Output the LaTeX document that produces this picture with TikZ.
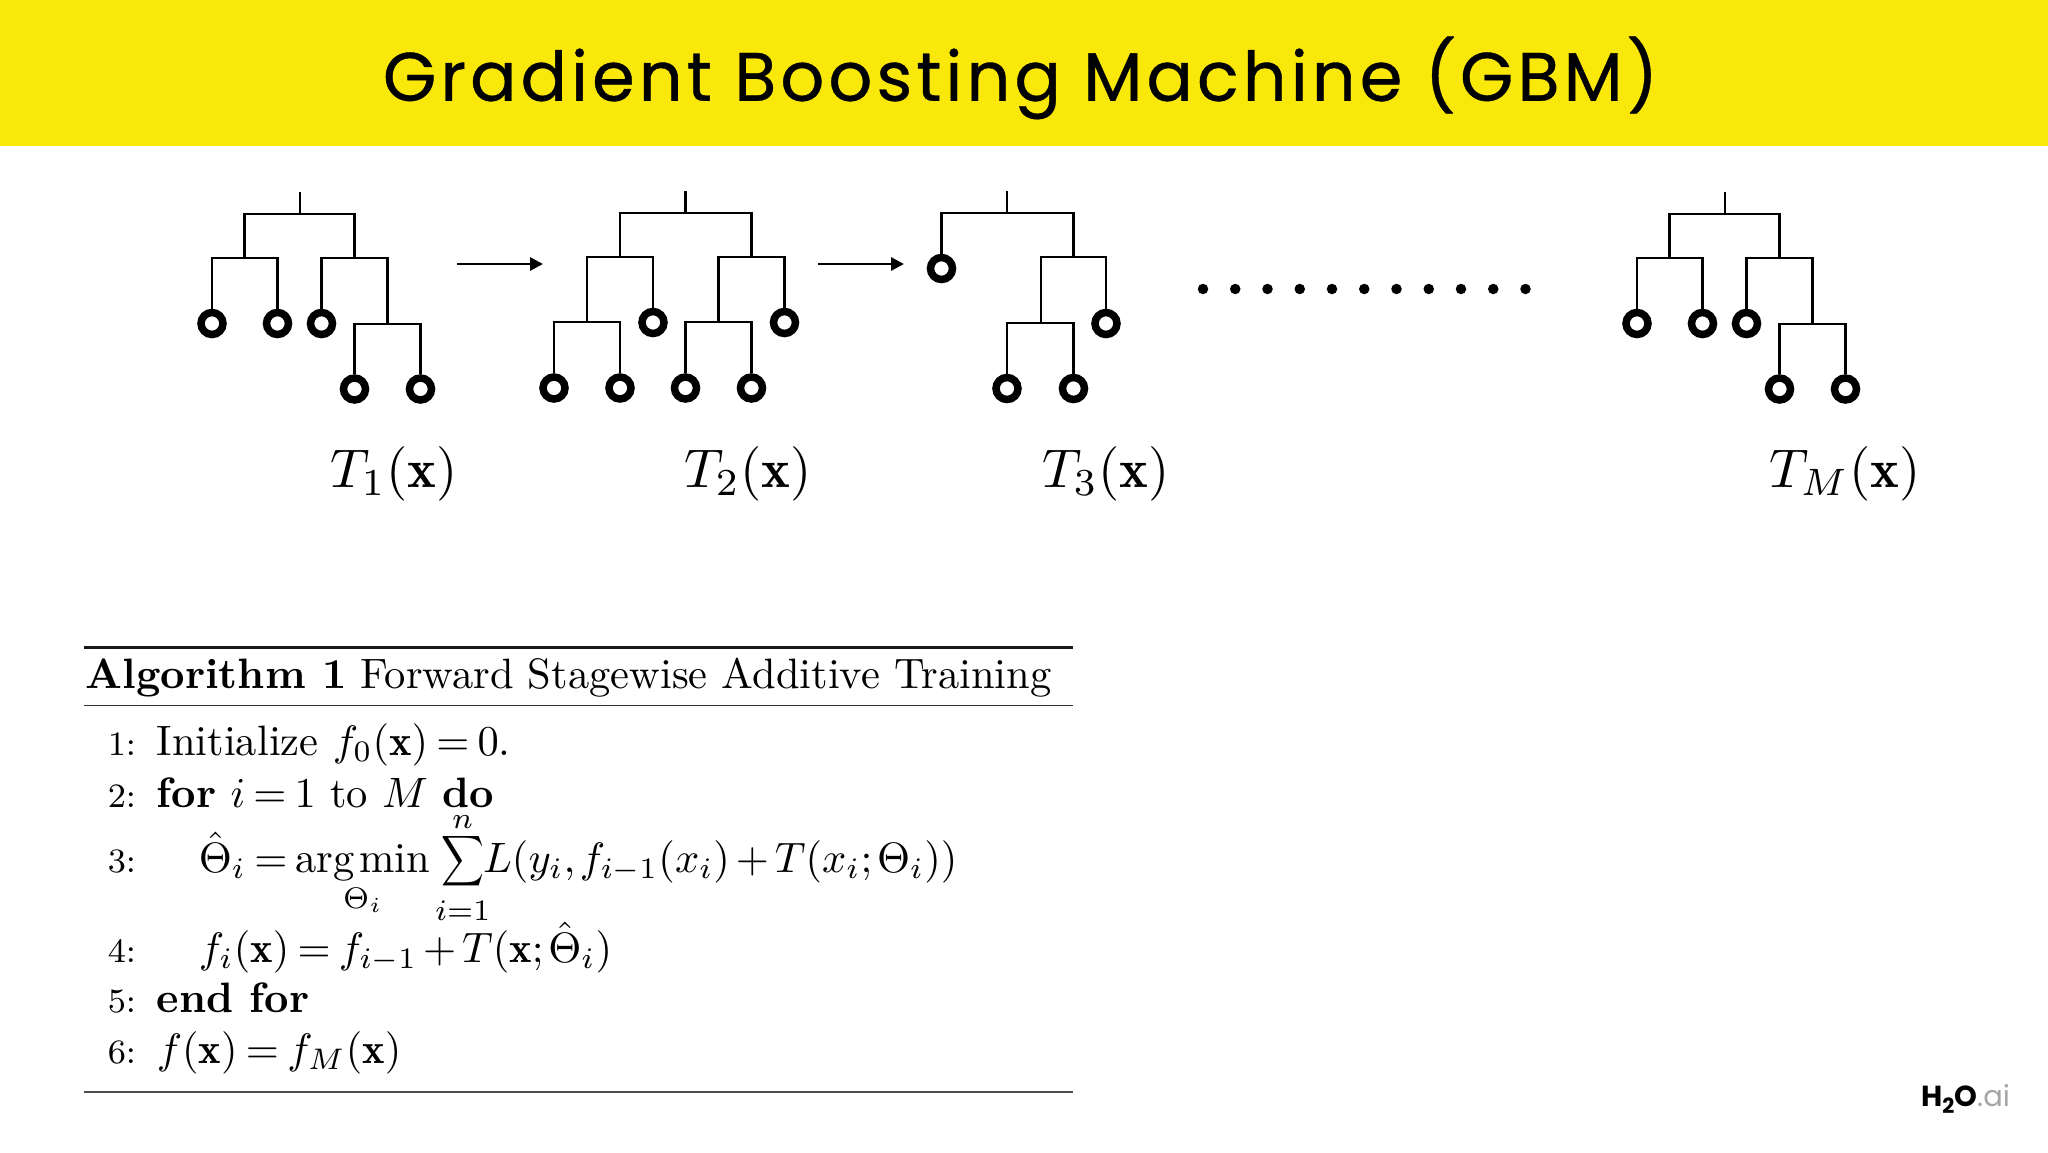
\documentclass[tikz,border=0pt]{standalone}
\usepackage{fontspec}
\usetikzlibrary{arrows.meta}
\newfontfamily\titlefont[LetterSpace=6,FakeBold=0.6]{Poppins}
\newfontfamily\logofont{Poppins}
\definecolor{banner}{HTML}{FAE80A}
\newcommand{\tightsum}{\mathop{\vcenter{\hbox{\scalebox{.7}[.83]{$\displaystyle\sum$}}}}\limits}
\tikzset{
  x=1pt,y=-1pt,
  branch/.style={line width=2.9pt,line cap=butt,line join=miter},
  leaf/.style={circle,draw=black,fill=white,line width=7.5pt,minimum size=22pt,inner sep=0pt},
  flow/.style={line width=2.9pt,-{Triangle[length=13pt,width=13pt]}},
  treelabel/.style={anchor=base west,scale=5.45,inner sep=0pt},
  algline/.style={anchor=base west,scale=4.25,inner sep=0pt,
    execute at begin node={\thickmuskip=3.5mu\medmuskip=2.5mu\thinmuskip=2mu}},
  algnum/.style={anchor=base west,scale=4.27,inner sep=0pt,font=\footnotesize},
  dotmark/.style={circle,fill=black,inner sep=0pt,minimum size=10.5pt},
}
\newcommand{\treeone}[2]{%
 \begin{scope}[shift={(#1,0)},name prefix=#2-]
  \coordinate (s) at (300,192); \coordinate (j) at (300,214);
  \coordinate (a) at (244.5,258); \coordinate (b) at (354.5,258);
  \coordinate (c) at (387.5,324);
  \node[leaf] (l1) at (212,323.5) {}; \node[leaf] (l2) at (277.5,323.5) {};
  \node[leaf] (l3) at (321.5,323.5) {};
  \node[leaf] (l4) at (354.5,389) {}; \node[leaf] (l5) at (420.5,389) {};
  \draw[branch] (s) -- (j) (j) -| (a) (j) -| (b);
  \draw[branch] (a) -| (l1) (a) -| (l2) (b) -| (l3) (b) -| (c);
  \draw[branch] (c) -| (l4) (c) -| (l5);
 \end{scope}}
\begin{document}
\begin{tikzpicture}
\useasboundingbox (0,0) rectangle (2048,1152);
\fill[white] (0,0) rectangle (2048,1152);
\fill[banner] (0,0) rectangle (2048,146);
\node[inner sep=0pt] (title) at (1020.5,78) {\resizebox{1275pt}{!}{\titlefont\fontsize{70}{80}\selectfont Gradient Boosting Machine (GBM)}};

\treeone{0}{t1}
\treeone{1425}{tm}

% tree 2
\coordinate (t2s) at (685.5,191); \coordinate (t2j) at (685.5,213);
\coordinate (t2a) at (620,257); \coordinate (t2b) at (751.5,257);
\coordinate (t2c) at (587,322); \coordinate (t2d) at (718.5,322);
\node[leaf] (t2l1) at (554,388) {}; \node[leaf] (t2l2) at (620,388) {};
\node[leaf] (t2l3) at (653,322.5) {}; \node[leaf] (t2l4) at (685.5,388) {};
\node[leaf] (t2l5) at (751.5,388) {}; \node[leaf] (t2l6) at (784.5,322.5) {};
\draw[branch] (t2s) -- (t2j) (t2j) -| (t2a) (t2j) -| (t2b);
\draw[branch] (t2a) -| (t2c) (t2a) -| (t2l3) (t2b) -| (t2d) (t2b) -| (t2l6);
\draw[branch] (t2c) -| (t2l1) (t2c) -| (t2l2) (t2d) -| (t2l4) (t2d) -| (t2l5);

% tree 3
\coordinate (t3s) at (1007,191); \coordinate (t3j) at (1007,213);
\coordinate (t3b) at (1073.5,257); \coordinate (t3c) at (1041,323);
\node[leaf] (t3l1) at (941.5,268.5) {}; \node[leaf] (t3l2) at (1106,323.5) {};
\node[leaf] (t3l3) at (1007,388.5) {}; \node[leaf] (t3l4) at (1073.5,388.5) {};
\draw[branch] (t3s) -- (t3j) (t3j) -| (t3l1) (t3j) -| (t3b);
\draw[branch] (t3b) -| (t3c) (t3b) -| (t3l2);
\draw[branch] (t3c) -| (t3l3) (t3c) -| (t3l4);

% arrows
\coordinate (f1a) at (457,264); \coordinate (f1b) at (543,264);
\coordinate (f2a) at (818,264); \coordinate (f2b) at (904,264);
\draw[flow] (f1a) -- (f1b);
\draw[flow] (f2a) -- (f2b);

% dots
\foreach \k in {0,...,10} \node[dotmark] (dot\k) at ({1203+32.25*\k},289) {};

% labels
\node[treelabel] (lab1) at (329,487) {$T_1(\mathbf{x})$};
\node[treelabel] (lab2) at (683,487) {$T_2(\mathbf{x})$};
\node[treelabel] (lab3) at (1041,487) {$T_3(\mathbf{x})$};
\node[treelabel] (labm) at (1768,487) {$T_M(\mathbf{x})$};

% algorithm
\coordinate (r1a) at (84,647.5); \coordinate (r1b) at (1073,647.5);
\coordinate (r2a) at (84,705.5); \coordinate (r2b) at (1073,705.5);
\coordinate (r3a) at (84,1092); \coordinate (r3b) at (1073,1092);
\draw[line width=3pt,black!90] (r1a) -- (r1b);
\draw[line width=1.8pt,black!80] (r2a) -- (r2b);
\draw[line width=1.8pt,black!70] (r3a) -- (r3b);
\node[algline] (algt) at (85,688) {\textbf{Algorithm 1} Forward Stagewise Additive Training};
\node[algnum] (n1) at (107,755) {1:};
\node[algnum] (n2) at (107,807) {2:};
\node[algnum] (n3) at (107,872) {3:};
\node[algnum] (n4) at (107,962) {4:};
\node[algnum] (n5) at (107,1012) {5:};
\node[algnum] (n6) at (107,1063) {6:};
\node[algline] (a1) at (156,755) {Initialize $f_0(\mathbf{x})=0$.};
\node[algline] (a2) at (156,807) {\textbf{for} $i=1$ to $M$ \textbf{do}};
\node[algline] (a3) at (198,872) {$\displaystyle\hat\Theta_i=\mathop{\mathrm{arg\,min}}\limits_{\Theta_i}\tightsum_{\raisebox{.8pt}[6.4pt][0pt]{$\scriptstyle i=1$}}^{\raisebox{-.8pt}[\height][0pt]{$\scriptstyle n$}}\mkern-5mu L(y_i,f_{i-1}(x_i)+T(x_i;\Theta_i))$};
\node[algline] (a4) at (198,962) {$f_i(\mathbf{x})=f_{i-1}+T(\mathbf{x};\hat\Theta_i)$};
\node[algline] (a5) at (156,1012) {\textbf{end for}};
\node[algline] (a6) at (156,1063) {$f(\mathbf{x})=f_M(\mathbf{x})$};

% logo
\node[anchor=base west,inner sep=0pt] (logo) at (1921,1106) {\logofont\fontsize{29}{30}\selectfont\bfseries H\raisebox{-7pt}{\fontsize{21}{21}\selectfont 2}O\mdseries\color{black!35}.ai};
\end{tikzpicture}
\end{document}
